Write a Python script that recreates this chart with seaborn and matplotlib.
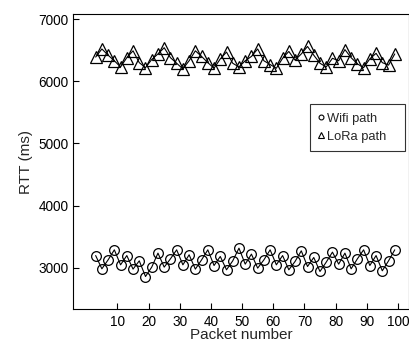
import matplotlib
matplotlib.use("Agg")
import matplotlib.pyplot as plt
from matplotlib.lines import Line2D
import seaborn as sns
import pandas as pd

packets = [3, 5, 7, 9, 11, 13, 15, 17, 19, 21, 23, 25, 27, 29, 31, 33, 35, 37, 39, 41,
           43, 45, 47, 49, 51, 53, 55, 57, 59, 61, 63, 65, 67, 69, 71, 73, 75, 77, 79, 81,
           83, 85, 87, 89, 91, 93, 95, 97, 99]

wifi_rtt = [3197, 2984, 3128, 3289, 3048, 3197, 2979, 3112, 2860, 3011,
            3236, 3011, 3144, 3289, 3048, 3209, 2979, 3128, 3289, 3037,
            3182, 2968, 3112, 3316, 3059, 3220, 2995, 3128, 3289, 3048,
            3197, 2968, 3102, 3273, 3021, 3166, 2941, 3091, 3252, 3059,
            3236, 2984, 3144, 3289, 3037, 3197, 2952, 3112, 3289]

lora_rtt = [6390, 6520, 6420, 6330, 6230, 6380, 6490, 6300, 6220, 6350,
            6440, 6540, 6380, 6290, 6200, 6330, 6490, 6400, 6300, 6210,
            6360, 6470, 6290, 6230, 6330, 6400, 6520, 6330, 6270, 6210,
            6370, 6480, 6340, 6440, 6560, 6420, 6290, 6230, 6370, 6330,
            6510, 6380, 6280, 6220, 6360, 6450, 6300, 6260, 6440]

series_labels = ["Wifi path", "LoRa path"]
x_ticks = [10, 20, 30, 40, 50, 60, 70, 80, 90, 100]
y_ticks = [3000, 4000, 5000, 6000, 7000]

sns.set_style("ticks")
plt.rcParams['font.family'] = ['Liberation Sans', 'DejaVu Sans']

fig = plt.figure(figsize=(4.09, 3.45), dpi=100)
ax = fig.add_axes([0.179, 0.103, 0.822, 0.856])

df_w = pd.DataFrame({"x": packets, "y": wifi_rtt})
df_l = pd.DataFrame({"x": packets, "y": lora_rtt})

sns.lineplot(data=df_w, x="x", y="y", ax=ax, color="black", linewidth=0.8,
             marker="o", markersize=7, markerfacecolor="none",
             markeredgecolor="black", markeredgewidth=0.9)
sns.lineplot(data=df_l, x="x", y="y", ax=ax, color="black", linewidth=0.8,
             marker="^", markersize=8.5, markerfacecolor="none",
             markeredgecolor="black", markeredgewidth=0.9)

ax.set_xlim(-4.2, 103.7)
ax.set_ylim(2330, 7080)
ax.set_xticks(x_ticks)
ax.set_yticks(y_ticks)
ax.tick_params(direction="in", length=4, width=0.8, labelsize=9.8, colors="black")
ax.tick_params(axis="x", top=False, pad=4)
ax.tick_params(axis="y", right=False)
for s in ax.spines.values():
    s.set_linewidth(0.8)
    s.set_color("black")

ax.set_xlabel("Packet number", fontsize=11, labelpad=-1)
ax.set_ylabel("RTT (ms)", fontsize=11, labelpad=4)

handles = [
    Line2D([], [], linestyle="none", marker="o", markersize=3.5, markerfacecolor="none",
           markeredgecolor="black", markeredgewidth=0.8),
    Line2D([], [], linestyle="none", marker="^", markersize=4.5, markerfacecolor="none",
           markeredgecolor="black", markeredgewidth=0.8),
]
leg = ax.legend(handles, series_labels, loc="upper left",
                bbox_to_anchor=(0.704, 0.5, 0.282, 0.196), mode="expand",
                fontsize=9.3, frameon=True, fancybox=False, handlelength=0.4,
                handletextpad=0.25, borderpad=0.68, labelspacing=0.45,
                borderaxespad=0)
leg.get_frame().set_edgecolor("black")
leg.get_frame().set_linewidth(0.8)

fig.savefig("out.png", dpi=100)
